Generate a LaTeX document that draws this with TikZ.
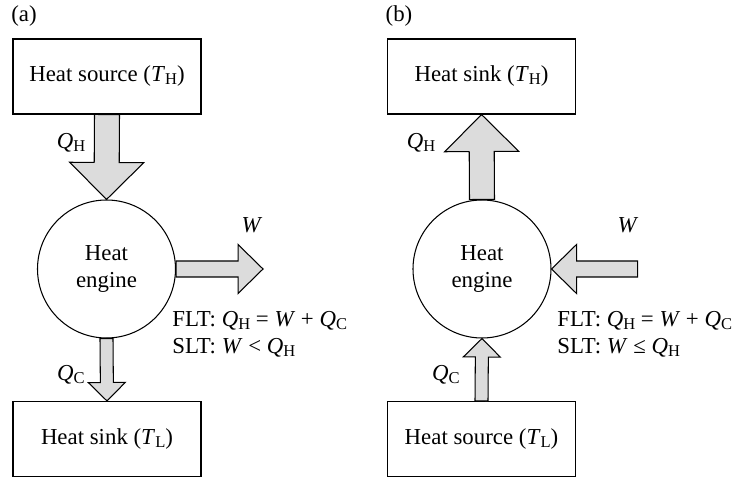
\documentclass[tikz,border=0pt]{standalone}
\usepackage{fontspec}
\setmainfont{Liberation Serif}
\usetikzlibrary{positioning, calc}
\definecolor{cFill}{HTML}{DCDCDC}

\newcommand{\qsub}[2]{\textit{#1}\raisebox{-1.7pt}{\fontsize{9.4}{10}\selectfont #2}}

\begin{document}
\begin{tikzpicture}[
    box/.style={
        draw, line width=0.6pt, minimum width=3.76cm, minimum height=1.5cm,
        inner sep=0pt, font=\fontsize{13}{15.5}\selectfont
    },
    eng/.style={
        draw, circle, line width=0.6pt, minimum size=2.76cm, inner sep=0pt,
        align=center, font=\fontsize{13}{15.5}\selectfont
    },
    fat/.style={draw, fill=cFill, line width=0.6pt, line join=miter},
    lbl/.style={font=\fontsize{13}{15.5}\selectfont, inner sep=0pt},
    law/.style={lbl, align=left, anchor=west},
]

\useasboundingbox (0,0) rectangle (15,-9.56);

% --- Helper: block arrow from #1 to #2 ---
% #3 = shaft half-width, #4 = head half-width, #5 = head length
\newcommand{\blockarrow}[5]{%
    \coordinate (hb) at ($(#2)!#5!(#1)$);
    \draw[fat] ($(#1)!#3!90:(#2)$) -- ($(hb)!#3!90:(#2)$) -- ($(hb)!#4!90:(#2)$)
        -- (#2) -- ($(hb)!#4!-90:(#2)$) -- ($(hb)!#3!-90:(#2)$)
        -- ($(#1)!#3!-90:(#2)$) -- cycle;
}

% =============================================
% (a) HEAT ENGINE
% =============================================

\node[lbl] (capA) at (0.48, -0.32) {(a)};

\node[box] (srcA) at (2.14, -1.53) {Heat source (\qsub{T}{H})};
\node[eng] (engA) at (2.13, -5.38) {Heat\\engine};
\node[box] (sinkA) at (2.14, -8.78) {Heat sink (\qsub{T}{L})};
\coordinate (wA) at ($(engA.east)+(1.74,0)$);

\blockarrow{srcA.south}{engA.north}{0.25cm}{0.74cm}{0.74cm}
\blockarrow{engA.east}{wA}{0.16cm}{0.49cm}{0.5cm}
\blockarrow{engA.south}{sinkA.north}{0.13cm}{0.37cm}{0.37cm}

\node[lbl] (qhA) at (1.42, -2.86) {\qsub{Q}{H}};
\node[lbl] (qcA) at (1.42, -7.5) {\qsub{Q}{C}};
\node[lbl] (wlA) at (5.04, -4.5) {\textit{W}};

\node[law] (lawA) at (3.44, -6.68) {FLT: \qsub{Q}{H} = \textit{W} + \qsub{Q}{C}\\
    SLT: \textit{W} < \qsub{Q}{H}};

% =============================================
% (b) HEAT PUMP
% =============================================

\node[lbl] (capB) at (7.98, -0.32) {(b)};

\node[box] (sinkB) at (9.63, -1.53) {Heat sink (\qsub{T}{H})};
\node[eng] (engB) at (9.64, -5.38) {Heat\\engine};
\node[box] (srcB) at (9.63, -8.78) {Heat source (\qsub{T}{L})};
\coordinate (wB) at ($(engB.east)+(1.72,0)$);

\blockarrow{engB.north}{sinkB.south}{0.25cm}{0.74cm}{0.74cm}
\blockarrow{wB}{engB.east}{0.16cm}{0.49cm}{0.5cm}
\blockarrow{srcB.north}{engB.south}{0.13cm}{0.37cm}{0.37cm}

\node[lbl] (qhB) at (8.42, -2.86) {\qsub{Q}{H}};
\node[lbl] (qcB) at (8.92, -7.5) {\qsub{Q}{C}};
\node[lbl] (wlB) at (12.56, -4.5) {\textit{W}};

\node[law] (lawB) at (11.14, -6.68) {FLT: \qsub{Q}{H} = \textit{W} + \qsub{Q}{C}\\
    SLT: \textit{W} ≤ \qsub{Q}{H}};

\end{tikzpicture}
\end{document}
